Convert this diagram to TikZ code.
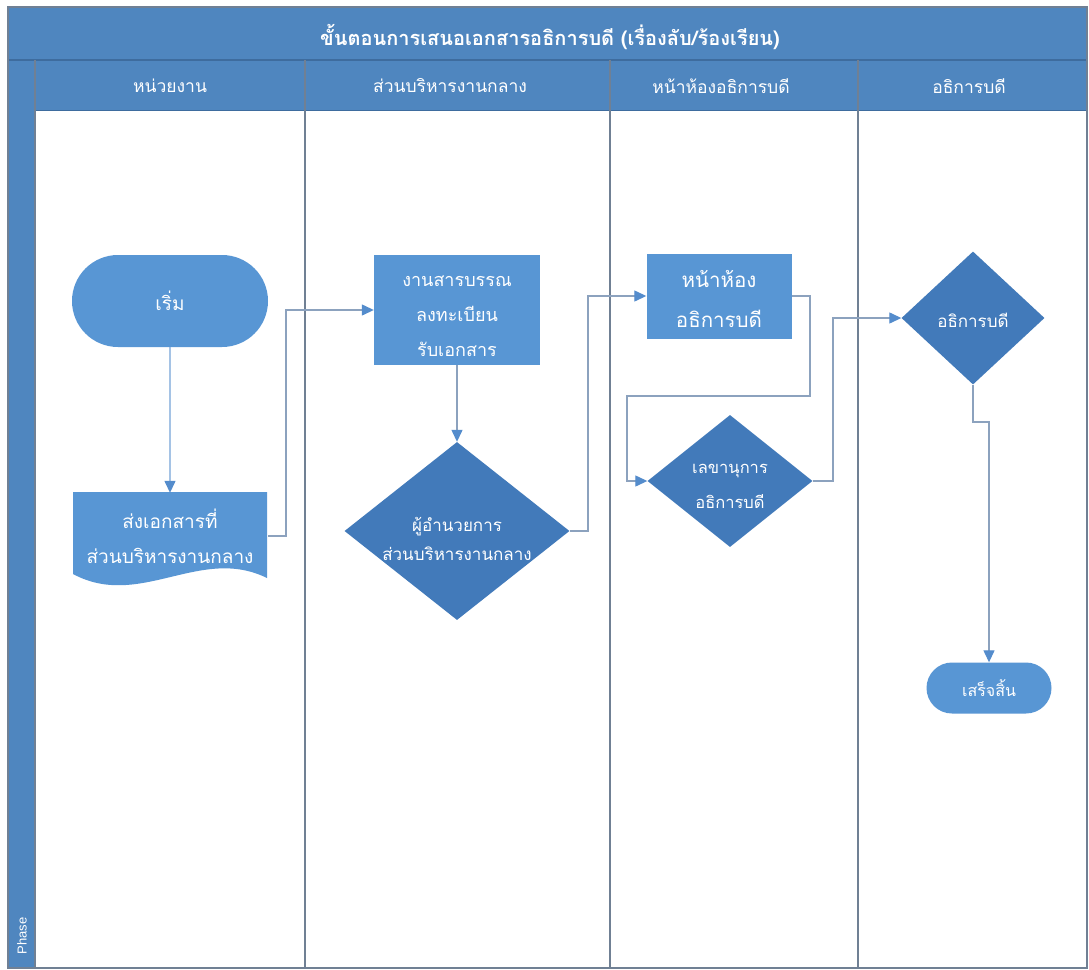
\documentclass[tikz,border=0pt]{standalone}
\usepackage{fontspec}
\newfontfamily\thaifont[Script=Thai]{Loma}
\newfontfamily\latinsans{Liberation Sans}
\usetikzlibrary{shapes.geometric,shapes.misc,arrows.meta}

\definecolor{band}{RGB}{79,134,191}
\definecolor{bandline}{RGB}{62,108,158}
\definecolor{lightnode}{RGB}{88,150,212}
\definecolor{darknode}{RGB}{66,122,186}
\definecolor{laneline}{RGB}{112,128,148}
\definecolor{flow}{RGB}{140,162,190}
\definecolor{flowblue}{RGB}{118,164,216}
\definecolor{tipblue}{RGB}{84,140,204}

% font sizes (size, line distance)
\newcommand\fnSet[2]{\thaifont\fontsize{#1}{#2}\selectfont}
\newcommand\fnHead{\thaifont\fontsize{17.5}{21}\selectfont}
\newcommand\fnTitle{\thaifont\bfseries\fontsize{20}{24}\selectfont}

\tikzset{
  terminal/.style={rounded rectangle, fill=lightnode, inner sep=0pt,
    text=white, align=center},
  procbox/.style={rectangle, fill=lightnode, inner sep=0pt},
  docbox/.style={rectangle, inner sep=0pt, text=white,
    align=center, minimum width=196pt, minimum height=86pt},
  decision/.style={diamond, fill=darknode, inner sep=0pt},
  shapetext/.style={text=white, align=center},
  flowline/.style={draw=flow, line width=1.3pt,
    -{Triangle[length=12pt,width=11pt,color=tipblue]}},
  firstline/.style={draw=flowblue, line width=1.3pt,
    -{Triangle[length=12pt,width=11pt,color=tipblue]}},
  headtext/.style={text=white, font=\fnHead},
  lane/.style={draw=laneline, line width=1.4pt},
}

\begin{document}
\begin{tikzpicture}[x=1pt,y=-1pt]
\useasboundingbox (0,0) rectangle (1089,969);

% swimlane frame
\fill[white] (0,0) rectangle (1089,969);
\fill[band] (8,7) rectangle (1087,110);
\fill[band] (8,60) rectangle (35,968);
\draw[bandline, line width=1.2pt] (8,60) -- (1087,60);
\draw[bandline, line width=1pt] (35,110) -- (1087,110);
\draw[lane] (8,7) rectangle (1087,968);
\draw[lane] (35,60) -- (35,968);
\draw[lane] (305,60) -- (305,968);
\draw[lane] (610,60) -- (610,968);
\draw[lane] (858,60) -- (858,968);

% titles
\node[text=white, font=\fnTitle] (title) at (550,37)
  {ขั้นตอนการเสนอเอกสารอธิการบดี (เรื่องลับ/ร้องเรียน)};
\node[headtext] (h1) at (170,86) {หน่วยงาน};
\node[headtext] (h2) at (450,86) {ส่วนบริหารงานกลาง};
\node[headtext] (h3) at (721,86) {หน้าห้องอธิการบดี};
\node[headtext] (h4) at (969,86) {อธิการบดี};
\node[rotate=90, text=white, font=\latinsans\fontsize{13}{15}\selectfont]
  (phase) at (22,936) {Phase};

% process shapes
\node[terminal, font=\fnSet{19}{36}, minimum width=196pt,
  minimum height=92pt] (start) at (170,301) {เริ่ม};

\fill[lightnode] (73,492) -- (267,492) -- (267,578)
  .. controls (200,545) and (140,610) .. (73,574) -- cycle;
\node[docbox, font=\fnSet{19}{35}] (doc) at (170,536)
  {ส่งเอกสารที่\\ส่วนบริหารงานกลาง};

\node[procbox, minimum width=166pt, minimum height=110pt,
  label={[shapetext, font=\fnSet{18}{35}, yshift=-6pt]center:งานสารบรรณ\\ลงทะเบียน\\รับเอกสาร}]
  (reg) at (457,310) {};

\node[decision, minimum width=225pt, minimum height=178pt,
  label={[shapetext, font=\fnSet{17}{29}, yshift=-8pt]center:ผู้อำนวยการ\\ส่วนบริหารงานกลาง}]
  (dir) at (457,531) {};

\node[procbox, minimum width=145pt, minimum height=85pt,
  label={[shapetext, font=\fnSet{20.5}{40}, yshift=-3pt]center:หน้าห้อง\\อธิการบดี}]
  (front) at (719,296) {};

\node[decision, minimum width=165pt, minimum height=132pt,
  label={[shapetext, font=\fnSet{16.5}{35}, yshift=-5pt]center:เลขานุการ\\อธิการบดี}]
  (sec) at (730,481) {};

\node[decision, minimum width=143pt, minimum height=133pt,
  label={[shapetext, font=\fnSet{17}{30}, yshift=-2pt]center:อธิการบดี}]
  (pres) at (973,318) {};

\node[terminal, font=\fnSet{16}{30}, minimum width=125pt,
  minimum height=51pt] (finish) at (989,688) {เสร็จสิ้น};

% connectors
\draw[firstline] (start) -- (doc);
\draw[flowline] (doc.east) -- (286,536) |- (reg.west);
\draw[flowline] (reg) -- (dir);
\draw[flowline] (dir.east) -- (588,531) |- (front.west);
\draw[flowline] (front.east) -- (810,296) -- (810,396) -- (627,396) |- (sec.west);
\draw[flowline] (sec.east) -- (833,481) |- (pres.west);
\draw[flowline] (pres.south) -- (973,422) -- (989,422) -- (finish.north);
\end{tikzpicture}
\end{document}
